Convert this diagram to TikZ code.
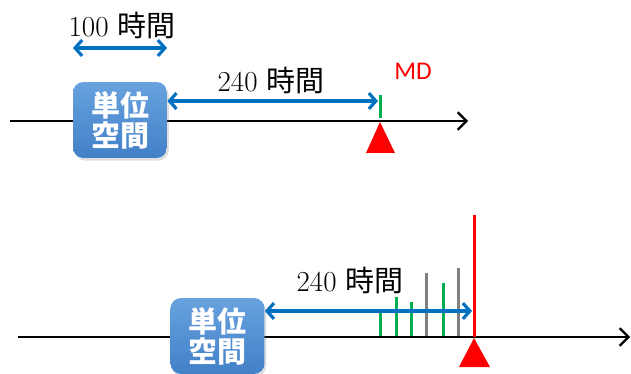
\documentclass[tikz,border=0pt]{standalone}
\usepackage{fontspec}
\newfontfamily\jp{Noto Sans CJK JP}
\newfontfamily\mdfont{Carlito}
\usetikzlibrary{arrows.meta,positioning,shadows}
\definecolor{spanblue}{RGB}{0,112,192}
\definecolor{boxtop}{RGB}{104,162,222}
\definecolor{boxbot}{RGB}{66,128,200}
\definecolor{tkgreen}{RGB}{0,176,80}
\definecolor{tkgray}{RGB}{128,128,128}
\tikzset{
	axis/.style={line width=1.3pt,-{Straight Barb[length=5pt,width=10pt]}},
	span/.style={spanblue,line width=1.8pt,{Straight Barb[length=4pt,width=9pt]}-{Straight Barb[length=4pt,width=9pt]}},
	unit/.style={rectangle,rounded corners=6pt,top color=boxtop,bottom color=boxbot,draw=none,
		minimum width=1.88cm,minimum height=1.52cm,align=center,text=white,inner sep=0pt,
		font=\jp\bfseries\fontsize{16.5}{17}\selectfont,drop shadow={opacity=0.25,shadow xshift=1pt,shadow yshift=-1.5pt}},
	lbl/.style={font=\fontsize{16.5}{18}\selectfont},
	tick/.style={line width=1.7pt}
}

\begin{document}
\begin{tikzpicture}[x=0.02cm,y=-0.02cm]
			\useasboundingbox (0,0) rectangle (631,374);
			% upper line
			\coordinate (s1) at (10,121);
			\coordinate (e1) at (468,121);
			\draw[axis] (s1) -- (e1);
			\node[unit] (box1) at (120,120) {単位\\空間};
			\node[lbl] (t100) at (122,25) {100 {\jp 時間}};
			\coordinate (h1a) at (73,48);
			\coordinate (h1b) at (167,48);
			\draw[span] (h1a) -- (h1b);
			\node[lbl] (t240a) at (271,80) {240 {\jp 時間}};
			\coordinate (m1) at (378,101);
			\draw[span] (box1.east |- m1) -- (m1);
			\coordinate (g1a) at (380,95);
			\coordinate (g1b) at (380,118);
			\draw[tick,tkgreen] (g1a) -- (g1b);
			\node[red,font=\mdfont\fontsize{14.5}{16}\selectfont] (md) at (413,71) {MD};
			\fill[red] (380,122) -- (366,153) -- (395,153) -- cycle;
			
			% lower line
			\coordinate (s2) at (18,337);
			\coordinate (e2) at (630,337);
			\draw[axis] (s2) -- (e2);
			\node[unit] (box2) at (217.5,336) {単位\\空間};
			\foreach \x/\y/\c in {380/313/tkgreen,396/297/tkgreen,411/302/tkgreen,426/273/tkgray,443/283/tkgreen,458/268/tkgray}
				\draw[tick,\c] (\x,\y) -- (\x,336);
			\coordinate (r2a) at (474,215);
			\coordinate (r2b) at (474,337);
			\draw[tick,red] (r2a) -- (r2b);
			\node[lbl] (t240b) at (350,280) {240 {\jp 時間}};
			\coordinate (m2) at (472,311);
			\draw[span] (box2.east |- m2) -- (m2);
			\fill[red] (474,338) -- (459,367) -- (490,367) -- cycle;
		\end{tikzpicture}
\end{document}
